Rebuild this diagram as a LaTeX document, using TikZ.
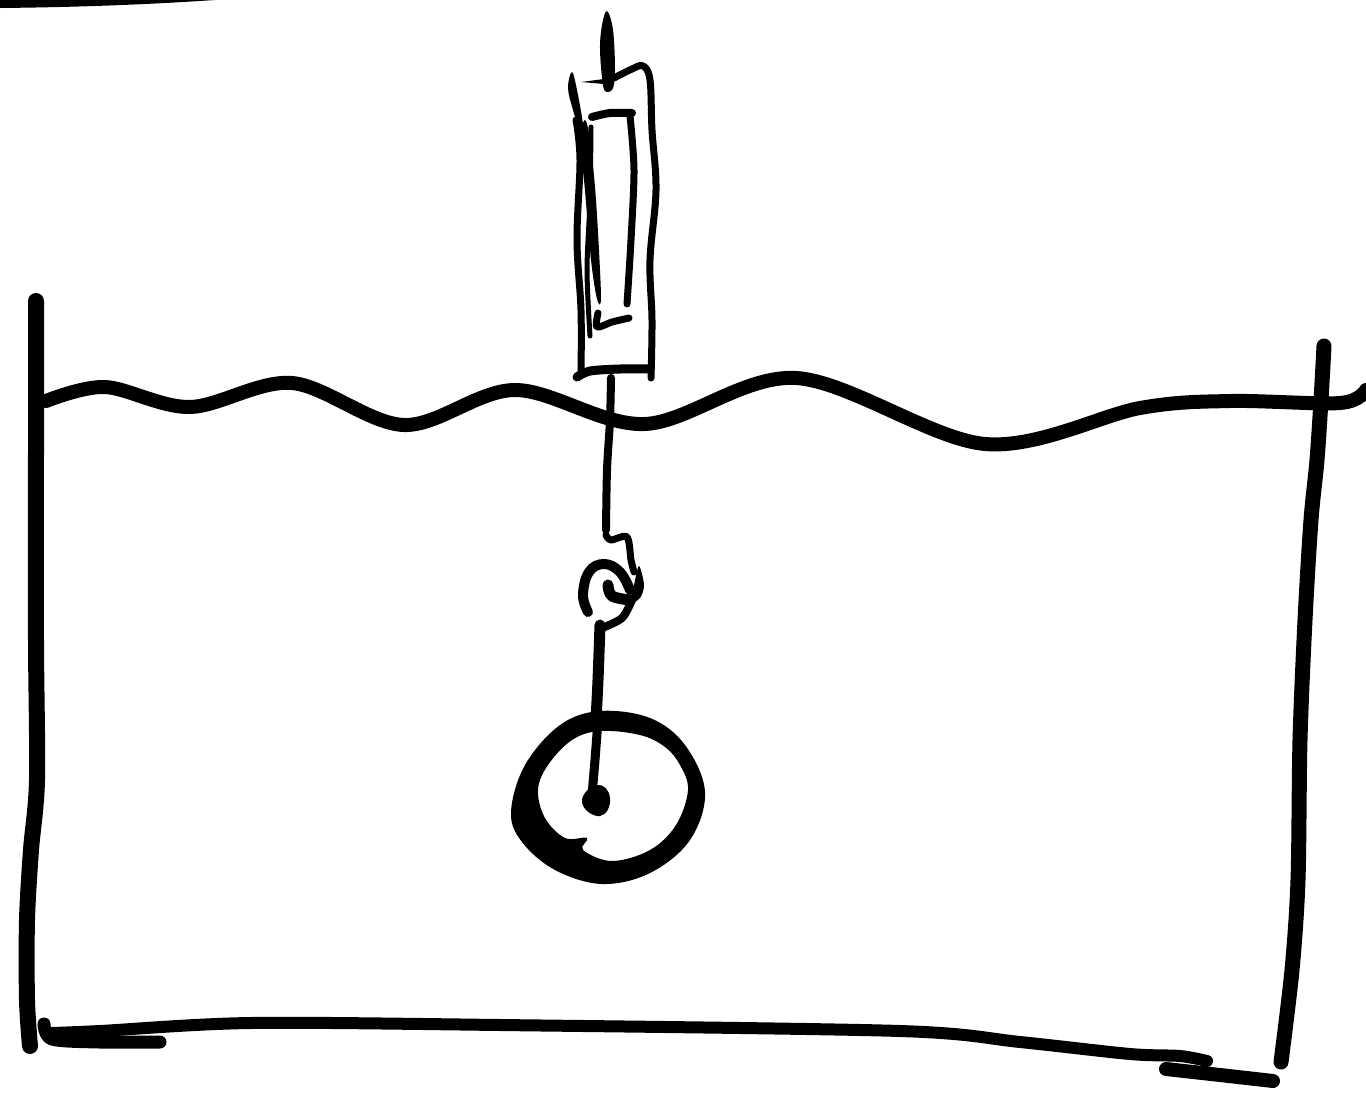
\documentclass[tikz,border=0pt]{standalone}
\begin{document}
\begin{tikzpicture}[x=1pt,y=-1pt,
  ink/.style={draw=black,line cap=round,line join=round,fill=none},
  blob/.style={fill=black,draw=none}]
\useasboundingbox (0,0) rectangle (1366,1098);
% stray stroke top-left
\fill[blob] (0,0) -- (215,0) .. controls (170,3) and (100,7) .. (0,8) -- cycle;
% walls
\draw[ink,line width=16] plot[smooth,tension=.5] coordinates {(36,301)(36,450)(36,640)(37,780)(31,850)(27,920)(27,1000)(30,1046)};
\draw[ink,line width=15] plot[smooth,tension=.5] coordinates {(1324,346)(1321,400)(1317,460)(1311,520)(1305,620)(1300,740)(1298,880)(1292,970)(1281,1062)};
% floor
\draw[ink,line width=13] plot[smooth,tension=.5] coordinates {(44,1024)(52,1039)(100,1042)(160,1042)};
\draw[ink,line width=12] plot[smooth,tension=.5] coordinates {(52,1033)(100,1031)(250,1023)(500,1025)(900,1031)(1020,1042)(1130,1054)(1180,1056)(1207,1061)};
\draw[ink,line width=14] plot[smooth,tension=.5] coordinates {(1166,1069)(1220,1075)(1273,1081)};
% water
\draw[ink,line width=14] plot[smooth,tension=.55] coordinates {(46,401)(105,387)(190,407)(292,383)(404,425)(515,390)(645,424)(796,378)(985,444)(1140,408)(1230,401)(1340,403)(1366,390)};
% tube outer
\draw[ink,line width=7] plot[smooth,tension=.6] coordinates {(576,120)(580,160)(577,240)(581,310)(581,372)};
\fill[blob] plot[smooth cycle,tension=.6] coordinates {(572,72)(577,90)(583,125)(581,135)(573,110)(568,88)};
\draw[ink,line width=7] plot[smooth,tension=.6] coordinates {(614,78)(632,69)(643,66)(650,80)(652,130)(656,190)(650,260)(652,320)(651,378)};
\fill[blob] plot coordinates {(581,82)(604,79)(612,76)(612,80)(604,84)} -- cycle;
% spike
\fill[blob] plot[smooth cycle,tension=.6] coordinates {(607,11)(613,30)(615,70)(613,88)(607,92)(603,85)(600,50)(602,25)};
% inner tube
\draw[ink,line width=8] plot[smooth,tension=.5] coordinates {(592,117)(610,113)(632,113)};
\draw[ink,line width=7] plot[smooth,tension=.5] coordinates {(630,116)(634,170)(631,240)(627,304)};
\fill[blob] plot[smooth cycle,tension=.5] coordinates {(585,120)(590,140)(596,200)(601,296)(597,299)(591,260)(584,180)(579,140)};
\draw[ink,line width=5] plot[smooth,tension=.5] coordinates {(591,127)(590,200)(587,270)(590,336)};
\draw[ink,line width=7] plot[smooth,tension=.5] coordinates {(598,313)(597,327)(612,322)(629,318)};
% tube bottom
\draw[ink,line width=9] plot[smooth,tension=.5] coordinates {(577,377)(590,371)(620,369)(648,369)};
% string
\draw[ink,line width=8] plot[smooth,tension=.5] coordinates {(611,378)(610,420)(607,470)(606,530)};
\draw[ink,line width=7] plot[smooth,tension=.5] coordinates {(606,535)(611,540)(627,537)(631,560)(634,572)};
% knot
\draw[ink,line width=10] plot[smooth,tension=.7] coordinates {(588,612)(583,595)(589,572)(604,564)(620,572)(630,590)};
\draw[ink,line width=11] plot[smooth,tension=.6] coordinates {(608,585)(612,596)(630,600)};
\fill[blob] plot[smooth cycle,tension=.5] coordinates {(639,566)(644,585)(640,598)(630,603)(634,585)};
\draw[ink,line width=8] plot[smooth,tension=.5] coordinates {(632,600)(622,618)(602,628)};
% shaft
\draw[ink,line width=11] plot[smooth,tension=.5] coordinates {(600,625)(598,680)(596,720)};
\draw[ink,line width=9] plot[smooth,tension=.5] coordinates {(598,720)(595,760)(592,795)};
\fill[blob] plot[smooth cycle,tension=.9] coordinates {(597,785)(610,798)(600,816)(582,802)};
% ball
\fill[blob,even odd rule] plot[smooth cycle,tension=.6] coordinates {(600,711)(650,718)(685,745)(705,792)(690,840)(650,873)(602,884)(555,870)(522,842)(511,812)(525,765)(560,725)}
 plot[smooth cycle,tension=.6] coordinates {(600,731)(640,735)(665,747)(680,765)(688,790)(676,825)(650,850)(612,861)(583,850)(587,838)(565,838)(545,818)(538,790)(548,765)(572,740)};
\end{tikzpicture}
\end{document}
